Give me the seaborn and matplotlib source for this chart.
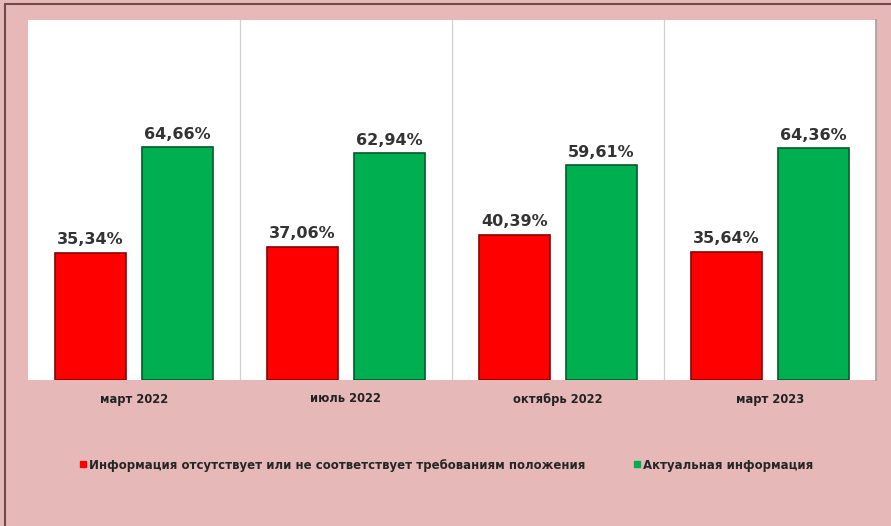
import pandas as pd
import matplotlib
matplotlib.use('Agg')
import matplotlib.pyplot as plt
import seaborn as sns
from matplotlib.lines import Line2D

periods = ['март 2022', 'июль 2022', 'октябрь 2022', 'март 2023']
missing = [35.34, 37.06, 40.39, 35.64]
actual = [64.66, 62.94, 59.61, 64.36]
series = ['Информация отсутствует или не соответствует требованиям положения',
          'Актуальная информация']
colors = ['#FF0000', '#00B050']
edges = ['#8B0000', '#005A2B']

df = pd.DataFrame({
    'period': periods * 2,
    'value': missing + actual,
    'series': [series[0]] * 4 + [series[1]] * 4,
})

sns.set_style('white')
plt.rcParams['font.family'] = ['DejaVu Sans']

bg = '#E6B9B8'
fig = plt.figure(figsize=(8.91, 5.26), dpi=100, facecolor=bg)
ax = fig.add_axes([28 / 891, 146 / 526, 848 / 891, 360 / 526])
ax.set_facecolor('white')

sns.barplot(data=df, x='period', y='value', hue='series', order=periods,
            hue_order=series, palette=colors, width=0.82, gap=0.18,
            saturation=1, legend=False, ax=ax)

for cont, ec in zip(ax.containers, edges):
    for p in cont:
        p.set_edgecolor(ec)
        p.set_linewidth(1.2)
    ax.bar_label(cont, labels=[f'{v:.2f}%'.replace('.', ',') for v in cont.datavalues],
                 padding=4, fontsize=11.5, fontweight='bold', color='#333333')

ax.set_ylim(0, 100)
ax.set_xlim(-0.5, 3.5)
ax.set_yticks([])
ax.set_xlabel('')
ax.set_ylabel('')
for x in [0.5, 1.5, 2.5]:
    ax.axvline(x, color='#D0D0D0', lw=0.9, zorder=0)
ax.tick_params(axis='x', length=0, pad=9)
for t in ax.get_xticklabels():
    t.set_fontsize(8.3)
    t.set_fontweight('bold')
    t.set_color('#222222')
for side in ['top', 'left', 'bottom']:
    ax.spines[side].set_visible(False)
ax.spines['right'].set_color('#A0A0A0')
ax.spines['right'].set_linewidth(1.2)

handles = [Line2D([], [], marker='s', ls='', color=c, markersize=5) for c in colors]
fig.legend(handles, series, loc='center', bbox_to_anchor=(0.5, 1 - 465 / 526), ncol=2,
           frameon=False, prop={'size': 8.5, 'weight': 'bold'}, handletextpad=0.1,
           columnspacing=4.0, handlelength=0.8)

# outer frame lines (top and left)
fig.add_artist(Line2D([5 / 891, 5 / 891], [0, 1 - 4 / 526], transform=fig.transFigure,
                      color='#6E4A48', lw=1.5))
fig.add_artist(Line2D([5 / 891, 1], [1 - 4 / 526, 1 - 4 / 526], transform=fig.transFigure,
                      color='#6E4A48', lw=1.5))

fig.savefig('out.png', dpi=100, facecolor=bg)
